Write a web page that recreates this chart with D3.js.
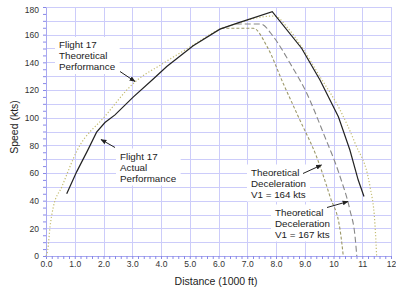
<!DOCTYPE html>
<html>
<head>
<meta charset="utf-8">
<script src="https://d3js.org/d3.v7.min.js"></script>
<style>
body { margin: 0; background: #fff; }
svg { font-family: Arial, "Liberation Sans", sans-serif; }
</style>
</head>
<body>
<div id="chart"></div>
<script>
// values (distance in 1000 ft, speed in kts)
var actualDist  = [0.72, 1.07, 1.44, 1.76, 2.05, 2.4, 3.04, 3.73, 4.2, 5.12, 6.05, 6.63, 7.87, 8.89, 9.53, 10.17, 10.57, 10.86, 11.06];
var actualSpeed = [45, 61, 76, 89.5, 96.5, 102, 115, 128, 137, 152, 164, 168.2, 176.6, 150.2, 127.2, 100.7, 76.6, 54.9, 43];

var theoDist  = [0, 0.06, 0.14, 0.25, 0.55, 1.09, 2.05, 3.04, 4.08, 5.12, 6.05, 6.7, 7.3, 7.95, 8.4, 8.89, 9.53, 10.23, 10.75, 11.27, 11.44, 11.5];
var theoSpeed = [0, 4.3, 21, 35, 50, 76.6, 101, 124.8, 139.3, 152.5, 164, 168.5, 172, 173.5, 165, 151.3, 129.6, 105.5, 81.5, 50.1, 23.6, 0];

var dec164Dist  = [6.1, 7.21, 7.7, 8.25, 8.83, 9.41, 9.88, 10.23, 10.34];
var dec164Speed = [164.6, 164.6, 151, 124.8, 98.3, 71.8, 42.9, 18.8, 0];

var dec167Dist  = [6.6, 7.47, 7.91, 8.49, 9.07, 9.65, 10.23, 10.57, 10.75, 10.81];
var dec167Speed = [167.7, 167.7, 158.5, 139.3, 117.6, 88.7, 57.3, 33.3, 14, 0];

var distTicks  = d3.range(0, 13);
var speedTicks = d3.range(0, 181, 20);

var w = 396, h = 290;
var x = d3.scaleLinear().domain([0, 12]).range([46, 391]);
var y = d3.scaleLinear().domain([0, 180]).range([256, 7]);

var svg = d3.select("#chart").append("svg").attr("width", w).attr("height", h);

// grid
var grid = svg.append("g").attr("stroke", "#ccccfa").attr("stroke-width", 1);
grid.selectAll(".gv").data(distTicks.slice(1)).enter().append("line")
    .attr("x1", function(d){ return Math.round(x(d)) + 0.5; })
    .attr("x2", function(d){ return Math.round(x(d)) + 0.5; })
    .attr("y1", y(0)).attr("y2", y(180));
grid.selectAll(".gh").data(d3.range(10, 181, 10)).enter().append("line")
    .attr("y1", function(d){ return Math.round(y(d)) + 0.5; })
    .attr("y2", function(d){ return Math.round(y(d)) + 0.5; })
    .attr("x1", x(0)).attr("x2", x(12));

// axes
function styleAxis(g){
    g.select(".domain").attr("stroke", "#a8a8f0");
    g.selectAll(".tick line").attr("stroke", "#8888e8");
    g.selectAll(".tick text").attr("fill", "#333").style("font-size", "8.5px");
}
var xAxis = d3.axisBottom(x)
    .tickValues(d3.range(0, 60.5, 1).map(function(d){ return d / 5; }))
    .tickSize(3).tickSizeOuter(0).tickPadding(2)
    .tickFormat(function(d){
        if (Math.abs(d - Math.round(d)) > 1e-6) return "";
        return d >= 10 ? d3.format("d")(d) : d3.format(".1f")(d);
    });
svg.append("g").attr("transform", "translate(0," + y(0) + ")").call(xAxis).call(styleAxis);

var yAxis = d3.axisLeft(y)
    .tickValues(d3.range(0, 181, 5))
    .tickSize(3).tickSizeOuter(0).tickPadding(4)
    .tickFormat(function(d){ return speedTicks.indexOf(d) >= 0 ? d : ""; });
var yg = svg.append("g").attr("transform", "translate(" + x(0) + ",0)").call(yAxis).call(styleAxis);
yg.selectAll(".tick text").filter(function(d){ return d === 180; }).attr("dy", "0.7em");

svg.append("text").attr("x", 216).attr("y", 284.5).attr("text-anchor", "middle")
    .style("font-size", "10.5px").attr("fill", "#222").text("Distance (1000 ft)");
svg.append("text").attr("transform", "translate(17.5,127) rotate(-90)").attr("text-anchor", "middle")
    .style("font-size", "10.5px").attr("fill", "#222").text("Speed (kts)");

// annotation boxes and text
var notes = [
    {lines: ["Flight 17", "Theoretical", "Performance"], x: 59, y: 48, tail: [120, 71.5], tip: [135, 81.5]},
    {lines: ["Flight 17", "Actual", "Performance"], x: 120, y: 159.5, tail: [115, 147.5], tip: [101, 139.5]},
    {lines: ["Theoretical", "Deceleration", "V1 = 164 kts"], x: 251, y: 175.5, tail: [303, 173.5], tip: [321.5, 165]},
    {lines: ["Theoretical", "Deceleration", "V1 = 167 kts"], x: 275, y: 215.5, tail: [327, 207.5], tip: [348, 201.5]}
];
var noteG = svg.append("g");
notes.forEach(function(n){
    var g = noteG.append("g");
    var rect = g.append("rect").attr("fill", "#fff");
    var t = g.append("text").attr("fill", "#222").style("font-size", "9.8px");
    n.lines.forEach(function(l, i){
        t.append("tspan").attr("x", n.x).attr("y", n.y + i * 11).text(l);
    });
    var bb = t.node().getBBox();
    rect.attr("x", bb.x - 4).attr("y", bb.y - 2).attr("width", bb.width + 8).attr("height", bb.height + 4);
});

// curves
var smooth = d3.line().curve(d3.curveMonotoneX)
    .x(function(d){ return x(d[0]); }).y(function(d){ return y(d[1]); });
var straight = d3.line()
    .x(function(d){ return x(d[0]); }).y(function(d){ return y(d[1]); });

function pairs(a, b){ return a.map(function(d, i){ return [d, b[i]]; }); }

svg.append("path").datum(pairs(dec164Dist, dec164Speed)).attr("d", smooth)
    .attr("fill", "none").attr("stroke", "#9c9868").attr("stroke-width", 1.1).attr("stroke-dasharray", "3,2");
svg.append("path").datum(pairs(dec167Dist, dec167Speed)).attr("d", smooth)
    .attr("fill", "none").attr("stroke", "#888").attr("stroke-width", 1.1).attr("stroke-dasharray", "6,3");
svg.append("path").datum(pairs(theoDist, theoSpeed)).attr("d", smooth)
    .attr("fill", "none").attr("stroke", "#c4bc70").attr("stroke-width", 1.2).attr("stroke-dasharray", "1.2,2");
svg.append("path").datum(pairs(actualDist, actualSpeed)).attr("d", straight)
    .attr("fill", "none").attr("stroke", "#222").attr("stroke-width", 1.2);

// arrows
svg.append("defs").append("marker").attr("id", "ah")
    .attr("viewBox", "0 0 10 10").attr("refX", 9).attr("refY", 5)
    .attr("markerWidth", 6).attr("markerHeight", 6).attr("orient", "auto")
    .attr("markerUnits", "userSpaceOnUse")
    .append("path").attr("d", "M0,1L10,5L0,9Z").attr("fill", "#222");
notes.forEach(function(n){
    svg.append("line").attr("x1", n.tail[0]).attr("y1", n.tail[1])
        .attr("x2", n.tip[0]).attr("y2", n.tip[1])
        .attr("stroke", "#222").attr("stroke-width", 1).attr("marker-end", "url(#ah)");
});
</script>
</body>
</html>
